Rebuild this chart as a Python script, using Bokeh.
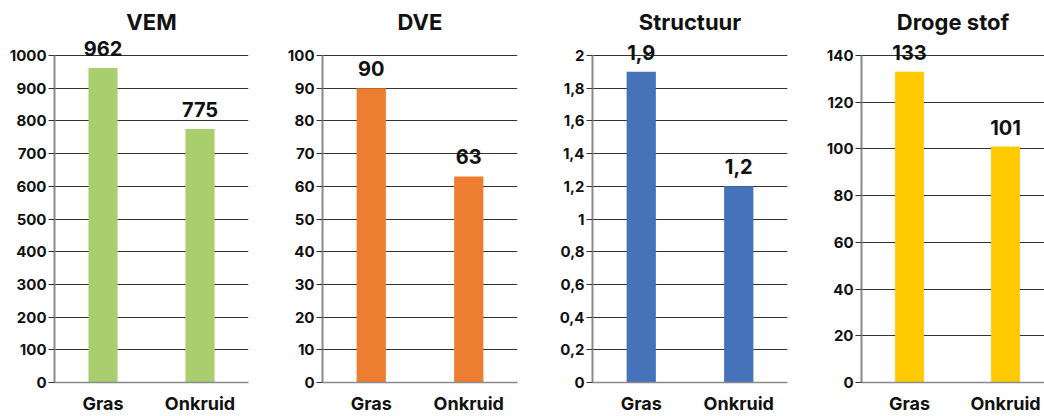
from bokeh.plotting import figure
from bokeh.layouts import row
from bokeh.models import Range1d, FixedTicker, CustomJSTickFormatter, ColumnDataSource, LabelSet, Label
from bokeh.embed import file_html
from bokeh.resources import INLINE
from bokeh.core.properties import value

# ---- data ----
categories = ["Gras", "Onkruid"]
titles = ["VEM", "DVE", "Structuur", "Droge stof"]
vem = [962, 775]
dve = [90, 63]
structuur = [1.9, 1.2]
droge_stof = [133, 101]
vem_ticks = [0, 100, 200, 300, 400, 500, 600, 700, 800, 900, 1000]
dve_ticks = [0, 10, 20, 30, 40, 50, 60, 70, 80, 90, 100]
structuur_ticks = [0, 0.2, 0.4, 0.6, 0.8, 1, 1.2, 1.4, 1.6, 1.8, 2]
droge_stof_ticks = [0, 20, 40, 60, 80, 100, 120, 140]
colors = ["#A9CE6D", "#ED7D31", "#4672BA", "#FFC900"]

FONT = "Inter"
INK = "#111111"
GRID = "#333333"
AXIS = "#8a8a8a"
PLOT_H = 327      # px from zero line to top gridline
HEAD_H = 55       # px of headroom above top gridline (title space)
FRAME_H = PLOT_H + HEAD_H

# layout: (border_left, frame_width, border_right, x_end)
layout = [(54, 194, 28, 2.0), (46, 195, 29, 2.0), (46, 195, 28, 2.0), (46, 183, 0, 1.906)]

series = [vem, dve, structuur, droge_stof]
ticks = [vem_ticks, dve_ticks, structuur_ticks, droge_stof_ticks]

comma_fmt = CustomJSTickFormatter(code="return (Math.round(tick*10)/10).toString().replace('.', ',');")

figs = []
for title, vals, col, tks, (bl, fw, br, xend) in zip(titles, series, colors, ticks, layout):
    xpos = [i + 0.5 for i in range(len(categories))]
    labels = [("%g" % v).replace(".", ",") for v in vals]
    src = ColumnDataSource(dict(x=xpos, top=vals, label=labels))
    ymax = tks[-1]
    p = figure(frame_width=fw, frame_height=FRAME_H,
               min_border_left=bl, min_border_right=br, min_border_top=0, min_border_bottom=30,
               x_range=Range1d(0, xend), y_range=Range1d(0, ymax * FRAME_H / PLOT_H),
               output_backend="svg", toolbar_location=None, tools="")
    p.vbar(x="x", top="top", width=0.3, source=src, fill_color=col, line_color=None)
    p.add_layout(LabelSet(x="x", y="top", text="label", source=src, text_align="center",
                          text_baseline="alphabetic", y_offset=12, text_font=value(FONT),
                          text_font_style="bold", text_font_size="20px", text_color=INK))
    p.add_layout(Label(x=xend / 2, y=PLOT_H + 34, y_units="screen", text=title,
                       text_align="center", text_baseline="alphabetic", text_font=FONT,
                       text_font_style="bold", text_font_size="22px", text_color=INK))

    p.outline_line_color = None
    p.xgrid.grid_line_color = None
    p.ygrid.ticker = FixedTicker(ticks=tks)
    p.ygrid.grid_line_color = GRID
    p.ygrid.grid_line_width = 1

    ya = p.yaxis[0]
    ya.ticker = FixedTicker(ticks=tks)
    ya.bounds = (0, ymax)
    ya.formatter = comma_fmt
    ya.axis_line_color = AXIS
    ya.axis_line_width = 2
    ya.major_tick_in = 0
    ya.major_tick_out = 6
    ya.major_tick_line_color = GRID
    ya.minor_tick_line_color = None
    ya.major_label_standoff = 2
    ya.major_label_text_font = FONT
    ya.major_label_text_font_style = "bold"
    ya.major_label_text_font_size = "15px"
    ya.major_label_text_color = INK

    xa = p.xaxis[0]
    xa.ticker = FixedTicker(ticks=xpos)
    xa.formatter = CustomJSTickFormatter(args=dict(cats=categories), code="return cats[Math.floor(tick)];")
    xa.axis_line_color = AXIS
    xa.axis_line_width = 1.5
    xa.major_tick_line_color = None
    xa.minor_tick_line_color = None
    xa.major_label_standoff = 4
    xa.major_label_text_font = FONT
    xa.major_label_text_font_style = "bold"
    xa.major_label_text_font_size = "18px"
    xa.major_label_text_color = INK
    figs.append(p)

layout_row = row(*figs, spacing=0)
open("out.html", "w").write(file_html(layout_row, INLINE))
